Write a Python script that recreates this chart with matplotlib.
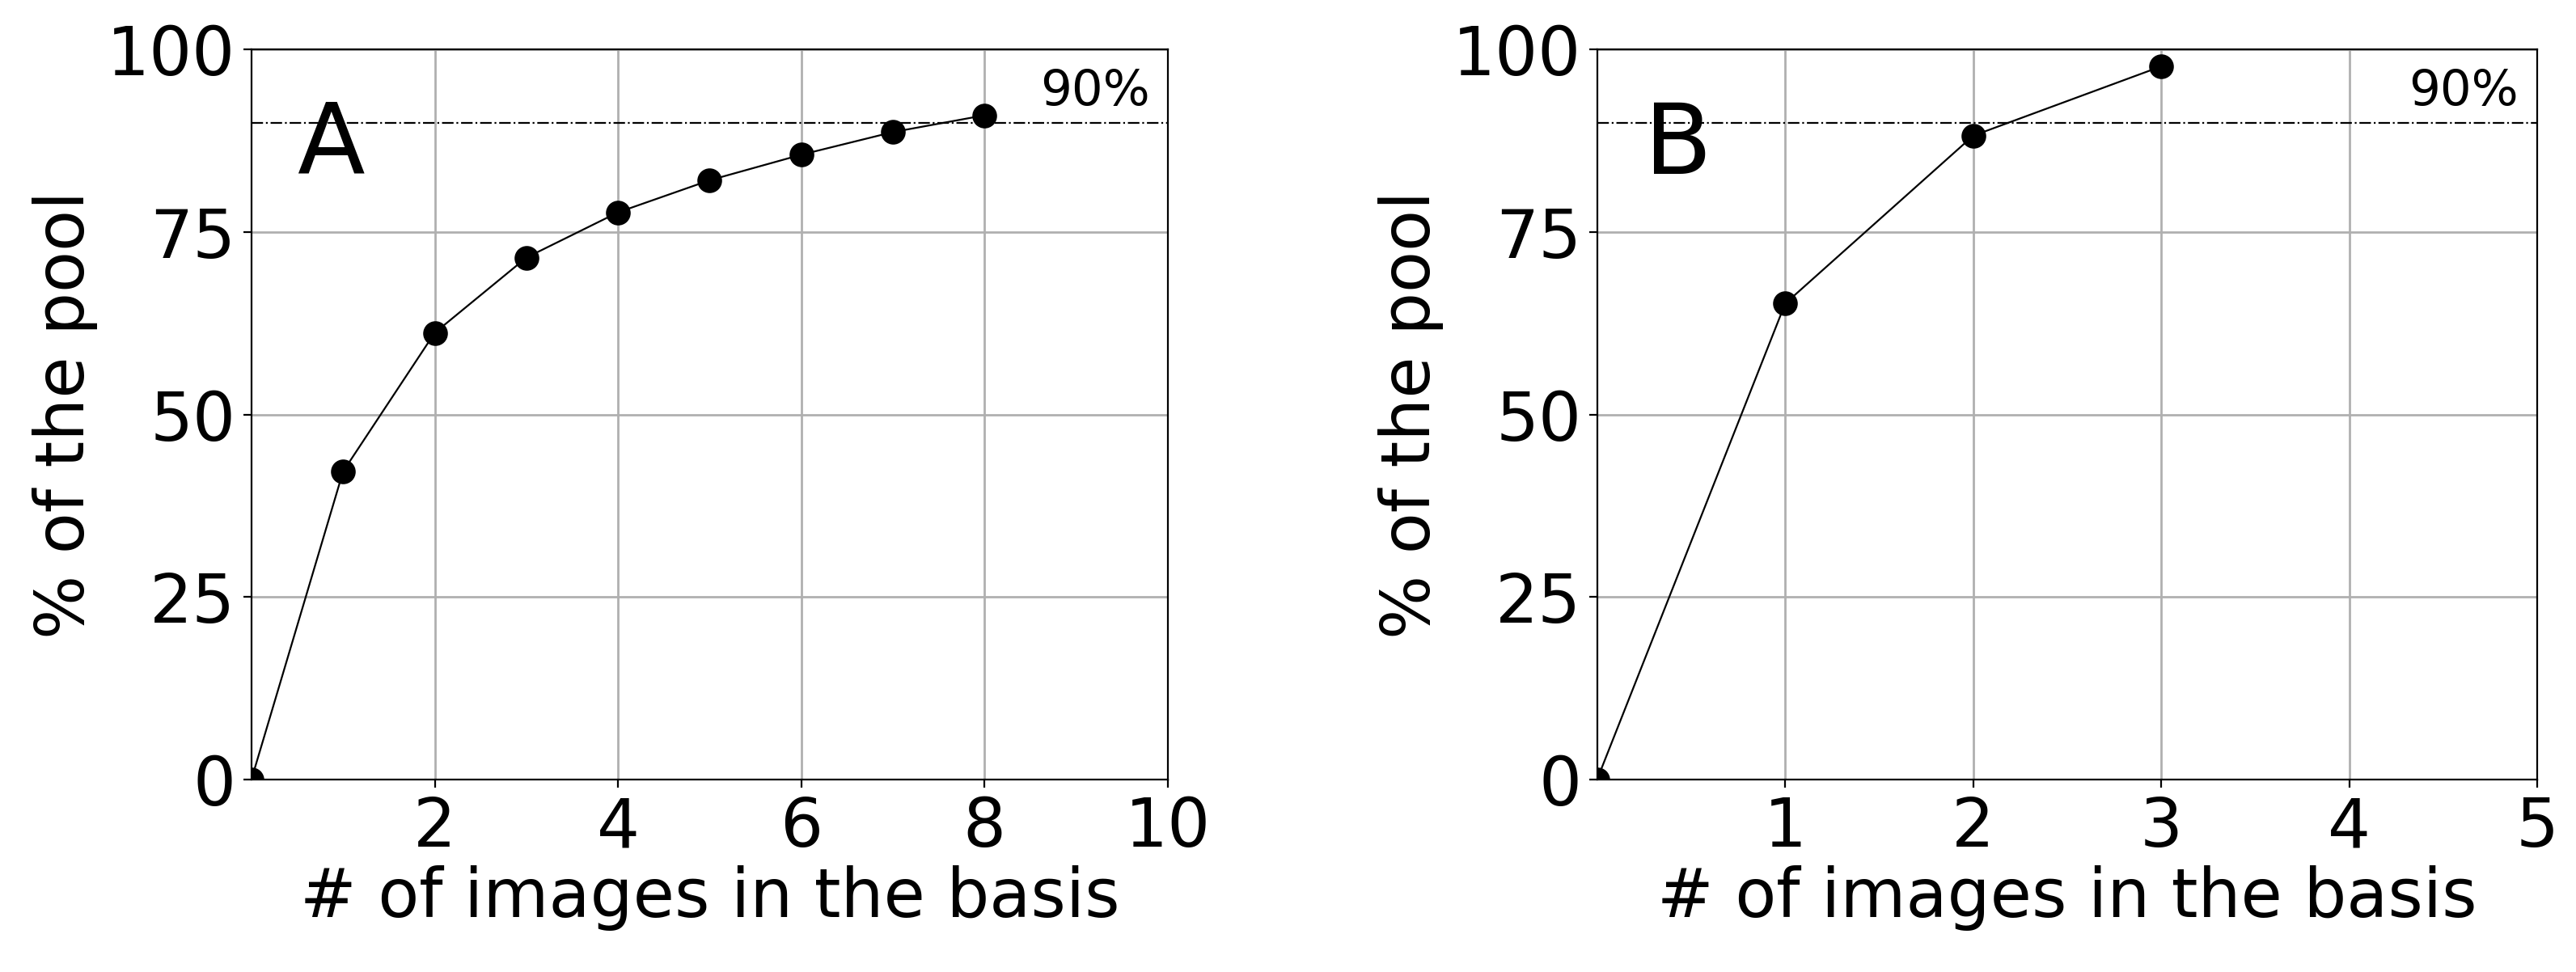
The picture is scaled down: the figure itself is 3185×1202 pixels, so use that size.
import matplotlib
matplotlib.use("Agg")
import matplotlib.pyplot as plt

xa = [0, 1, 2, 3, 4, 5, 6, 7, 8]
ya = [0, 42.2, 61.2, 71.5, 77.7, 82.1, 85.6, 88.7, 91.0]
xb = [0, 1, 2, 3]
yb = [0, 65.2, 88.2, 97.7]
yticks = [0, 25, 50, 75, 100]

fig = plt.figure(figsize=(15.925, 6.01), dpi=200)
axA = fig.add_axes([0.0976, 0.198, 0.3558, 0.751])
axB = fig.add_axes([0.620, 0.198, 0.365, 0.751])

for ax, x, y, xmax, xt, lab in [(axA, xa, ya, 10, [2, 4, 6, 8, 10], "A"),
                                 (axB, xb, yb, 5, [1, 2, 3, 4, 5], "B")]:
    ax.plot(x, y, color="black", lw=0.8, marker="o", ms=10, zorder=3, clip_on=True)
    ax.axhline(90, color="black", lw=0.8, ls="-.")
    ax.set_xlim(0, xmax)
    ax.set_ylim(0, 100)
    ax.set_xticks(xt)
    ax.set_yticks(yticks)
    ax.grid(True, color="#b0b0b0", lw=1)
    ax.set_axisbelow(True)
    ax.tick_params(labelsize=30)
    ax.set_xlabel("# of images in the basis", fontsize=30, labelpad=2)
    ax.set_ylabel("% of the pool", fontsize=30, labelpad=4)
    ax.text(0.05, 0.83, lab, transform=ax.transAxes, fontsize=44)
    ax.text(0.98, 91, "90%", transform=ax.get_yaxis_transform(), ha="right",
            va="bottom", fontsize=22)

fig.savefig("out.png", dpi=200)
